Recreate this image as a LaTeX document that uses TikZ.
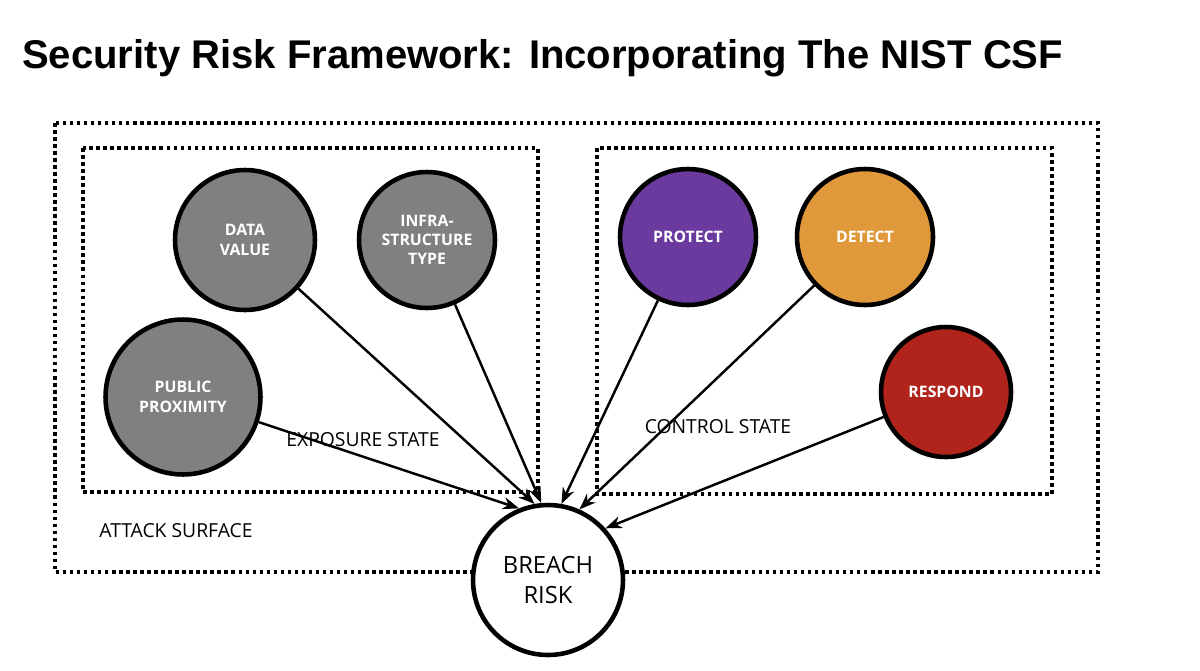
\documentclass[tikz,border=0pt]{standalone}
\usepackage{fontspec}
\setmainfont{Open Sans}
\newfontfamily\titlefont{Liberation Sans}
\usetikzlibrary{positioning,arrows.meta}
\tikzset{>=Stealth}
\definecolor{riskgray}{HTML}{808080}
\definecolor{riskpurple}{HTML}{6A3A9E}
\definecolor{riskorange}{HTML}{E0993A}
\definecolor{riskred}{HTML}{B0241C}

\begin{document}
\begin{tikzpicture}[x=0.02cm,y=-0.02cm,
  factor/.style={circle,draw=black,line width=2.6pt,text=white,
    font=\fontsize{9}{11}\selectfont\bfseries,align=center,inner sep=0pt},
  box/.style={dotted,line width=2pt},
  area/.style={font=\fontsize{11}{13}\selectfont},
  link/.style={->,line width=1.4pt}]
\useasboundingbox (0,0) rectangle (1200,670);
\node[anchor=west,font=\titlefont\fontsize{22.8}{26}\selectfont\bfseries] (title) at (16,58)
  {Security Risk Framework: Incorporating The NIST CSF};
\draw[box] (55,123) rectangle (1098,572);
\draw[box] (83,148) rectangle (538,492);
\draw[box] (597,148) rectangle (1052,494);
\node[area] (surface) at (176,531) {ATTACK SURFACE};
\node[area] (exposure) at (363,440) {EXPOSURE STATE};
\node[area] (control) at (718,427) {CONTROL STATE};
\node[factor,fill=riskgray,minimum size=2.8cm] (data) at (245,240) {DATA\\VALUE};
\node[factor,fill=riskgray,minimum size=2.72cm] (infra) at (427,240) {INFRA-\\STRUCTURE\\TYPE};
\node[factor,fill=riskgray,minimum size=3.1cm] (public) at (183,397) {PUBLIC\\PROXIMITY};
\node[factor,fill=riskpurple,minimum size=2.72cm] (protect) at (688,237) {PROTECT};
\node[factor,fill=riskorange,minimum size=2.72cm] (detect) at (865,237) {DETECT};
\node[factor,fill=riskred,minimum size=2.6cm] (respond) at (946,392) {RESPOND};
\node[circle,draw=black,line width=2.6pt,fill=white,minimum size=3cm,align=center,
  font=\fontsize{13.5}{17}\selectfont] (breach) at (548,580) {BREACH\\RISK};
\draw[link] (data) -- (breach.100);
\draw[link] (infra) -- (breach.95);
\draw[link] (public) -- (breach.112);
\draw[link] (protect) -- (breach.80);
\draw[link] (detect) -- (breach.66);
\draw[link] (respond) -- (breach.42);
\end{tikzpicture}
\end{document}
